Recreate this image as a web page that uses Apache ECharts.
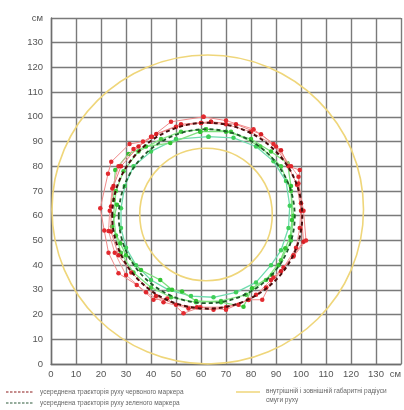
<!DOCTYPE html>
<html>
<head>
<meta charset="utf-8">
<script src="https://cdn.jsdelivr.net/npm/echarts@6/dist/echarts.min.js"></script>
<style>
  html, body { margin: 0; padding: 0; background: #fff; }
  #chart { width: 404px; height: 410px; }
</style>
</head>
<body>
<div id="chart"></div>
<script>
// Axis ticks (cm); the last tick carries the unit instead of a number
const axisTicks = [0, 10, 20, 30, 40, 50, 60, 70, 80, 90, 100, 110, 120, 130, 140];
const unitLabel = 'см';

// Lane clearance circles: [centre x, centre y, radius x, radius y]
const laneInner = [62, 60.5, 26.5, 26.8];
const laneOuter = [62.7, 62.5, 62.3, 62.5];

// Averaged marker trajectories: [centre x, centre y, radius x, radius y]
const redAverage = [62.5, 60, 38, 37.6];
const greenAverage = [62.3, 59.8, 35.2, 35.2];

// Individual runs of the red marker (x, y in cm)
const redRun1 = [[61,100],[70,98.5],[81,95],[89,89],[95,80],[99.5,78.5],[99,73],[101,62],[102,50],[97,43.5],[89,35],[84.5,26],[79,26],[70,22],[59.7,23],[53,20.5],[46.5,26.5],[41,26],[34.3,32],[27,36.7],[23,45],[21.3,54],[19.7,63],[22.8,77],[24.1,81.8],[31.4,89],[36.8,90],[40.4,92],[48,98],[61,100]];
const redRun2 = [[64,98],[74,97],[84,93],[92,86.5],[98.4,72.5],[100,62],[101,49.5],[97,44],[92,37.5],[86,31],[79,25.9],[70,23],[58.4,23],[50,24],[42,27.5],[32.1,37],[27,44],[24,53.6],[24,63.7],[25,72],[28,80],[35,88],[42.1,93.1],[52,97],[64,98]];
const redRun3 = [[60,97.5],[70,97],[80,94],[90,88],[96,80],[99,75.8],[100,65],[99.5,55],[98,47],[93,39],[88,34],[82,28],[75,24],[65,22],[55,22.5],[45,25],[38,29],[30,36],[25.5,45],[23,53.8],[23.5,62],[24.5,71],[27,80],[33,87],[40,92],[50,96],[60,97.5]];

// Individual runs of the green marker (x, y in cm)
const greenRun1 = [[59.7,94],[70,94],[80,91],[88,86],[94.6,81.2],[96,72],[96.4,58.3],[95.7,51.5],[93.7,46.8],[91,40],[88.4,36],[80.4,30.6],[77,23.2],[68,25],[58,25.5],[52.4,29.3],[48.4,30],[43.7,34],[36,38],[30,44],[27.7,48.9],[24.4,55.6],[26.4,64.4],[25,66.4],[25.7,78.5],[31,85],[38,88],[47.7,89.4],[59.7,94]];
const greenRun2 = [[62,95],[72,94],[83.7,88],[92,80],[96,70],[97,60],[96,50],[92,42],[86,34],[78,28],[68,25.5],[58,25],[48,27],[40,31],[33,37],[28,45],[26,52],[25,60],[26,70],[29,78],[35,86],[44,91],[52,94],[62,95]];
const greenRun3 = [[63,92],[73,91.5],[82,88],[89,82],[94,74],[95.5,64],[95,55],[92,46],[88,40],[82,33],[74,29],[65,27],[56,27.5],[47,30],[40,34],[34,40],[30,47],[28,55],[28,63],[29.5,72],[33,80],[40,86],[50,91],[63,92]];

// Legend captions
const legendRed = 'усереднена траєкторія руху червоного маркера';
const legendGreen = 'усереднена траєкторія руху зеленого маркера';
const legendLane1 = 'внутрішній і зовнішній габаритні радіуси';
const legendLane2 = 'смуги руху';

const chart = echarts.init(document.getElementById('chart'), null, { renderer: 'canvas' });

function ringSeries(name, values, color, width, dash, z) {
  return {
    name: name,
    type: 'custom',
    coordinateSystem: 'cartesian2d',
    z: z,
    silent: true,
    clip: false,
    data: [values],
    renderItem: function (params, api) {
      const c = api.coord([api.value(0), api.value(1)]);
      const s = api.size([api.value(2), api.value(3)]);
      return {
        type: 'ellipse',
        shape: { cx: c[0], cy: c[1], rx: s[0], ry: s[1] },
        style: { fill: 'none', stroke: color, lineWidth: width, lineDash: dash }
      };
    }
  };
}

function runSeries(data, lineColor, dotColor, width, z) {
  return {
    type: 'line',
    data: data,
    z: z,
    silent: true,
    symbol: 'circle',
    symbolSize: 4.5,
    showSymbol: true,
    lineStyle: { color: lineColor, width: width },
    itemStyle: { color: dotColor, borderWidth: 0 },
    animation: false
  };
}

const labelFont = { color: '#555', fontSize: 9.5, fontFamily: 'Liberation Sans, Arial, sans-serif' };

chart.setOption({
  animation: false,
  backgroundColor: '#fff',
  grid: { left: 51, right: 3, top: 18, bottom: 46 },
  xAxis: {
    type: 'value', min: 0, max: 140, interval: 10,
    axisLine: { show: true, lineStyle: { color: '#6e6e6e', width: 1.4 } },
    axisTick: { show: false },
    splitLine: { show: true, lineStyle: { color: '#7a7a7a', width: 1.4 } },
    axisLabel: Object.assign({
      margin: 5,
      alignMaxLabel: 'right',
      formatter: function (v) { return v === axisTicks[axisTicks.length - 1] ? unitLabel : String(v); }
    }, labelFont)
  },
  yAxis: {
    type: 'value', min: 0, max: 140, interval: 10,
    axisLine: { show: true, lineStyle: { color: '#6e6e6e', width: 1.4 } },
    axisTick: { show: false },
    splitLine: { show: true, lineStyle: { color: '#7a7a7a', width: 1.4 } },
    axisLabel: Object.assign({
      margin: 8,
      formatter: function (v) { return v === axisTicks[axisTicks.length - 1] ? unitLabel : String(v); }
    }, labelFont)
  },
  series: [
    ringSeries('outer', laneOuter, '#efd67a', 1.6, null, 2),
    ringSeries('inner', laneInner, '#efd67a', 1.6, null, 2),
    runSeries(greenRun3, '#6fdcae', '#3fcf5a', 1.3, 3),
    runSeries(greenRun2, '#86e886', '#44cc44', 1.3, 3),
    runSeries(greenRun1, '#7fe07f', '#33c433', 1.3, 3),
    runSeries(redRun3, '#f29a9a', '#e0262c', 1, 4),
    runSeries(redRun2, '#ee8080', '#d81f25', 1, 4),
    runSeries(redRun1, '#f08a8a', '#e32b30', 1, 4),
    ringSeries('greenAvg', greenAverage, '#1f5a2a', 1.8, [4, 3], 5),
    ringSeries('redAvg', redAverage, '#4a0c0c', 2, [4, 3], 6)
  ],
  graphic: [
    { type: 'line', shape: { x1: 6, y1: 392, x2: 34, y2: 392 }, style: { stroke: '#8b1a1a', lineWidth: 1.2, lineDash: [2.5, 1.5] } },
    { type: 'text', x: 40, y: 392, style: { text: legendRed, fill: '#666', fontSize: 6.5, fontFamily: 'Liberation Sans, Arial, sans-serif', verticalAlign: 'middle' } },
    { type: 'line', shape: { x1: 6, y1: 403, x2: 34, y2: 403 }, style: { stroke: '#2d5a3a', lineWidth: 1.2, lineDash: [2.5, 1.5] } },
    { type: 'text', x: 40, y: 403, style: { text: legendGreen, fill: '#666', fontSize: 6.5, fontFamily: 'Liberation Sans, Arial, sans-serif', verticalAlign: 'middle' } },
    { type: 'line', shape: { x1: 236, y1: 392, x2: 260, y2: 392 }, style: { stroke: '#efd67a', lineWidth: 1.5 } },
    { type: 'text', x: 266, y: 391, style: { text: legendLane1, fill: '#666', fontSize: 6.5, fontFamily: 'Liberation Sans, Arial, sans-serif', verticalAlign: 'middle' } },
    { type: 'text', x: 266, y: 400, style: { text: legendLane2, fill: '#666', fontSize: 6.5, fontFamily: 'Liberation Sans, Arial, sans-serif', verticalAlign: 'middle' } }
  ]
});
</script>
</body>
</html>
